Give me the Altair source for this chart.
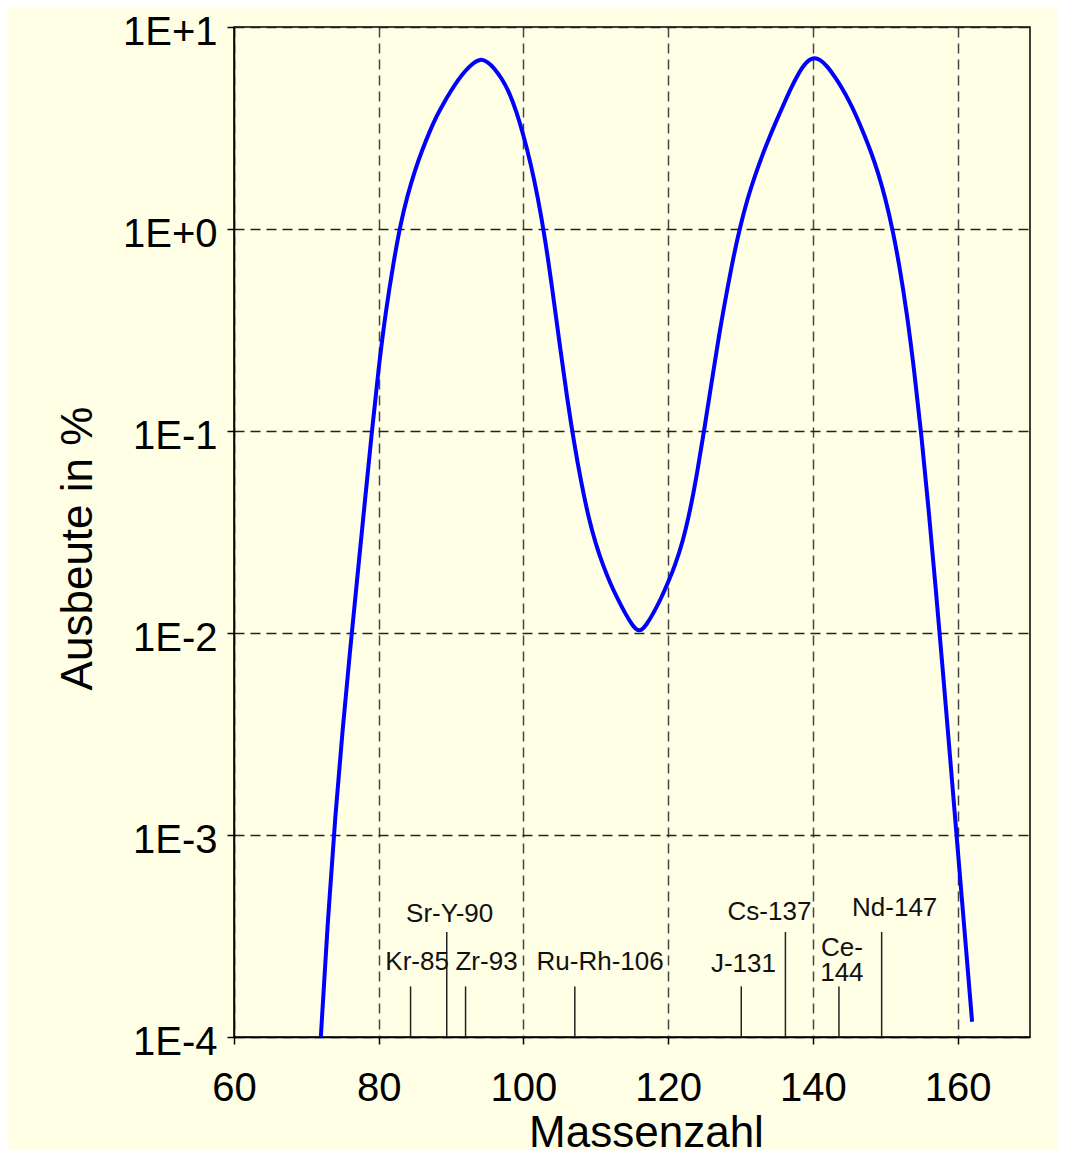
import altair as alt
import pandas as pd

# Fission yield curve (Massenzahl vs Ausbeute in %)
mass = list(range(72, 163))
yield_pct = [
    1.0e-4, 3.98e-4, 1.26e-3, 3.31e-3, 7.94e-3, 0.0182, 0.0417, 0.0955, 0.209, 0.398,   # 72-81
    0.668, 1.059, 1.479, 1.950, 2.455, 3.020, 3.631, 4.217, 4.842, 5.495,              # 82-91
    6.095, 6.607, 6.966, 6.761, 6.237, 5.559, 4.786, 3.846, 2.917, 2.113,              # 92-101
    1.429, 0.891, 0.501, 0.269, 0.148, 0.0871, 0.0550, 0.0372, 0.0275, 0.0216,         # 102-111
    0.0176, 0.0148, 0.0126, 0.01096, 0.0100, 0.01096, 0.0126, 0.0148, 0.0178, 0.0219,  # 112-121
    0.0282, 0.0398, 0.0617, 0.1023, 0.1738, 0.2951, 0.4677, 0.7244, 1.047, 1.429,      # 122-131
    1.841, 2.317, 2.851, 3.467, 4.169, 5.012, 5.888, 6.683, 7.079, 6.918,              # 132-141
    6.383, 5.689, 5.012, 4.315, 3.631, 2.985, 2.427, 1.905, 1.429, 1.000,              # 142-151
    0.6457, 0.3802, 0.1995, 0.0955, 0.0407, 0.0162, 0.00624, 0.00232, 0.000861, 0.000320,  # 152-161
    0.000119,                                                                           # 162
]

# Isotope markers
iso_names = ["Kr-85", "Sr-Y-90", "Zr-93", "Ru-Rh-106", "J-131", "Cs-137", "Ce-\n144", "Nd-147"]
iso_mass = [84.4, 89.4, 92.0, 107.1, 130.1, 136.2, 143.6, 149.5]
iso_top = [1.78e-4, 3.31e-4, 1.78e-4, 1.78e-4, 1.78e-4, 3.31e-4, 1.78e-4, 3.31e-4]
label_mass = [85.3, 89.8, 94.9, 110.6, 130.4, 134.0, 144.0, 151.3]
label_yield = [2.34e-4, 4.07e-4, 2.34e-4, 2.34e-4, 2.3e-4, 4.17e-4, 2.75e-4, 4.37e-4]

x_ticks = [60, 80, 100, 120, 140, 160]
y_ticks = [1e-4, 1e-3, 1e-2, 1e-1, 1, 10]

curve = pd.DataFrame({"m": mass, "y": yield_pct})
iso = pd.DataFrame({"name": iso_names, "m": iso_mass, "top": iso_top,
                    "lm": label_mass, "ly": label_yield, "base": [1e-4] * len(iso_mass)})

FONT = "Liberation Sans"

xscale = alt.Scale(domain=[60, 170], nice=False, zero=False)
yscale = alt.Scale(type="log", domain=[1e-4, 10], nice=False)

xaxis = alt.Axis(values=x_ticks, title="Massenzahl", grid=True, gridDash=[10, 6],
                 gridColor="#444", gridWidth=1.5, gridOpacity=1,
                 domainColor="#000", domainWidth=1.5, tickColor="#000", tickWidth=1.5,
                 tickSize=7, labelFont=FONT, labelFontSize=40, labelColor="#000",
                 labelPadding=24, titleFont=FONT, titleFontSize=44, titleFontWeight="normal",
                 titleColor="#000", titleX=412, titleY=96, titleBaseline="middle",
                 labelFlush=False)
yaxis = alt.Axis(values=y_ticks, title="Ausbeute in %", grid=True, gridDash=[10, 6],
                 gridColor="#222", gridWidth=1.5, gridOpacity=1,
                 domainColor="#000", domainWidth=1.5, tickColor="#000", tickWidth=1.5,
                 tickSize=7, labelFont=FONT, labelFontSize=40, labelColor="#000",
                 labelPadding=10, labelFlush=False, labelOffset=5,
                 labelExpr="datum.value >= 1 ? '1E+' + round(log(datum.value)/LN10) : '1E' + round(log(datum.value)/LN10)",
                 titleFont=FONT, titleFontSize=44, titleFontWeight="normal", titleColor="#000",
                 titleX=-156, titleY=521, titleBaseline="middle", titleAngle=-90)

line = alt.Chart(curve).mark_line(color="#0000FF", strokeWidth=4, interpolate="basis", clip=True).encode(
    x=alt.X("m:Q", scale=xscale, axis=xaxis),
    y=alt.Y("y:Q", scale=yscale, axis=yaxis),
)

rules = alt.Chart(iso).mark_rule(color="#222", strokeWidth=1.5).encode(
    x=alt.X("m:Q", scale=xscale),
    y=alt.Y("base:Q", scale=yscale),
    y2="top:Q",
)

labels = alt.Chart(iso).mark_text(font=FONT, fontSize=26, color="#111", baseline="middle",
                                  align="center", lineBreak="\n", lineHeight=25).encode(
    x=alt.X("lm:Q", scale=xscale),
    y=alt.Y("ly:Q", scale=yscale),
    text="name:N",
)

chart = alt.layer(line, rules, labels).properties(
    width=796, height=1010,
    autosize=alt.AutoSizeParams(type="none"),
    padding={"left": 226, "top": 19, "right": 28, "bottom": 113},
    background="#FFFFE6",
).configure_view(stroke="#000", strokeWidth=1.5, fill="#FFFFE6")

chart.save("out.html", embed_options={"renderer": "svg", "actions": False})
